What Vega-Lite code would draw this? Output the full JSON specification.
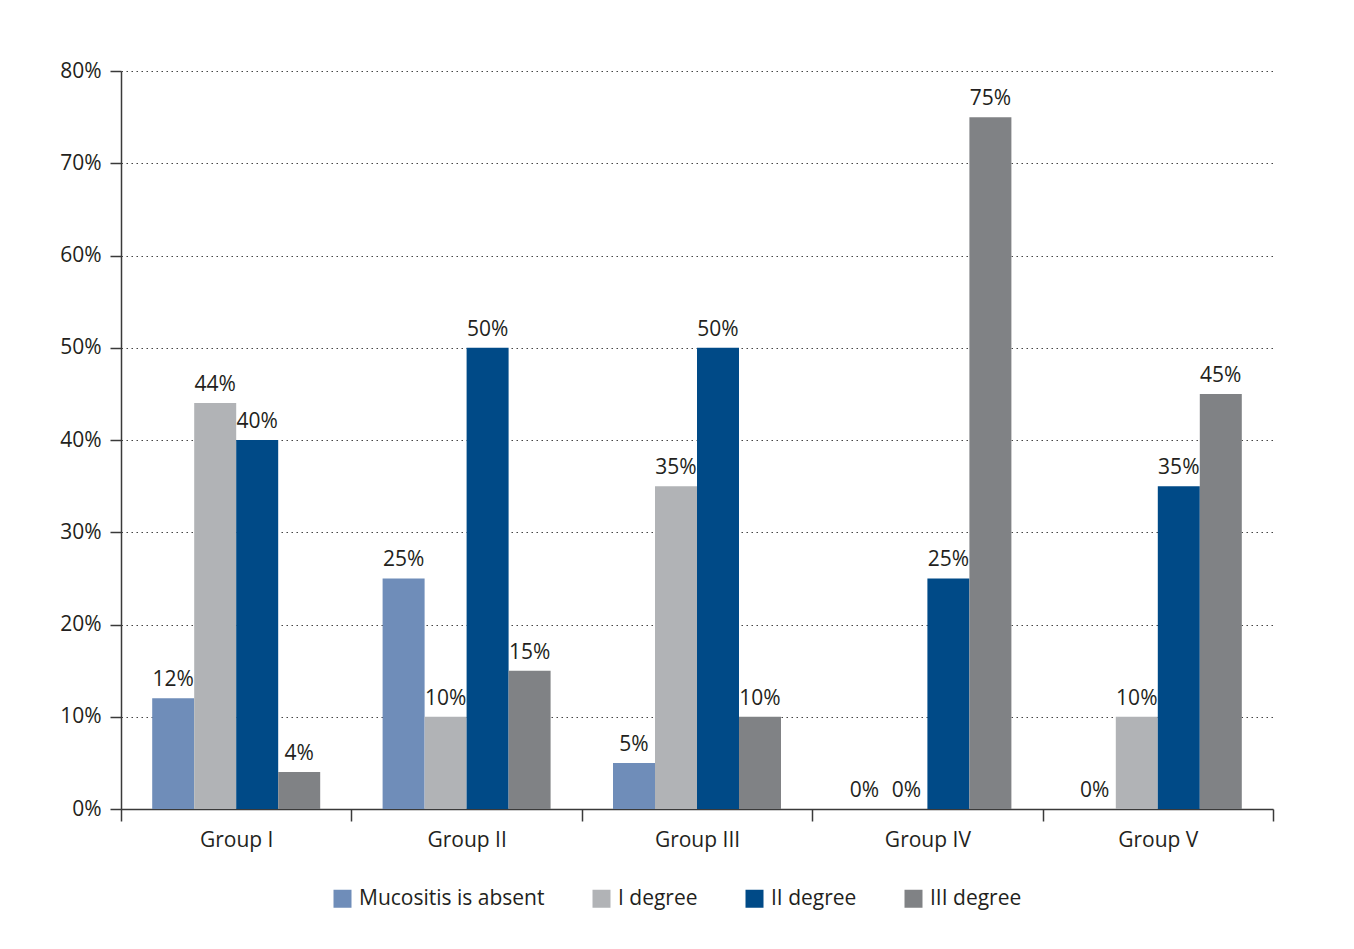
{
  "$schema": "https://vega.github.io/schema/vega-lite/v6.json",
  "width": 1152,
  "height": 738,
  "autosize": {"type": "none"},
  "padding": {"left": 121, "top": 71, "right": 81, "bottom": 140},
  "background": "white",
  "config": {
    "font": "Open Sans",
    "view": {"stroke": null}
  },
  "data": {
    "values": [
      {"group": "Group I", "series": "Mucositis is absent", "value": 0.12},
      {"group": "Group I", "series": "I degree", "value": 0.44},
      {"group": "Group I", "series": "II degree", "value": 0.40},
      {"group": "Group I", "series": "III degree", "value": 0.04},
      {"group": "Group II", "series": "Mucositis is absent", "value": 0.25},
      {"group": "Group II", "series": "I degree", "value": 0.10},
      {"group": "Group II", "series": "II degree", "value": 0.50},
      {"group": "Group II", "series": "III degree", "value": 0.15},
      {"group": "Group III", "series": "Mucositis is absent", "value": 0.05},
      {"group": "Group III", "series": "I degree", "value": 0.35},
      {"group": "Group III", "series": "II degree", "value": 0.50},
      {"group": "Group III", "series": "III degree", "value": 0.10},
      {"group": "Group IV", "series": "Mucositis is absent", "value": 0},
      {"group": "Group IV", "series": "I degree", "value": 0},
      {"group": "Group IV", "series": "II degree", "value": 0.25},
      {"group": "Group IV", "series": "III degree", "value": 0.75},
      {"group": "Group V", "series": "Mucositis is absent", "value": 0},
      {"group": "Group V", "series": "I degree", "value": 0.10},
      {"group": "Group V", "series": "II degree", "value": 0.35},
      {"group": "Group V", "series": "III degree", "value": 0.45}
    ]
  },
  "encoding": {
    "x": {
      "field": "group", "type": "nominal", "sort": null, "title": null,
      "scale": {"paddingInner": 0, "paddingOuter": 0},
      "axis": {
        "labelAngle": 0, "labelFontSize": 21, "labelColor": "#231f20", "labelDx": 3,
        "domainColor": "#3a3a3a", "domainWidth": 1.5,
        "tickBand": "extent", "tickSize": 12, "tickColor": "#3a3a3a", "tickWidth": 1.5,
        "labelPadding": 8, "grid": false
      }
    },
    "xOffset": {
      "field": "series", "type": "nominal",
      "sort": ["Mucositis is absent", "I degree", "II degree", "III degree"],
      "scale": {"paddingInner": 0, "paddingOuter": 0.743}
    },
    "y": {
      "field": "value", "type": "quantitative", "title": null,
      "scale": {"domain": [0, 0.8], "nice": false},
      "axis": {
        "values": [0, 0.1, 0.2, 0.3, 0.4, 0.5, 0.6, 0.7, 0.8],
        "format": ".0%",
        "labelFontSize": 21, "labelColor": "#231f20", "labelPadding": 9,
        "domainColor": "#3a3a3a", "domainWidth": 1.5,
        "tickColor": "#3a3a3a", "tickSize": 11, "tickWidth": 1.5,
        "grid": true, "gridColor": "#444444", "gridDash": [1.5, 3.5], "gridWidth": 1.2
      }
    }
  },
  "layer": [
    {
      "mark": {"type": "bar"},
      "encoding": {
        "color": {
          "field": "series", "type": "nominal",
          "sort": ["Mucositis is absent", "I degree", "II degree", "III degree"],
          "scale": {
            "domain": ["Mucositis is absent", "I degree", "II degree", "III degree"],
            "range": ["#6f8db9", "#b1b3b6", "#004a87", "#808285"]
          },
          "legend": {
            "title": null, "orient": "none", "direction": "horizontal",
            "legendX": 211, "legendY": 817,
            "symbolType": "square", "symbolSize": 324, "symbolStrokeWidth": 0,
            "symbolOpacity": 1, "labelOffset": 6, "labelLimit": 400,
            "labelFontSize": 21, "labelColor": "#231f20",
            "columnPadding": 46
          }
        }
      }
    },
    {
      "mark": {"type": "text", "baseline": "alphabetic", "dy": -12, "fontSize": 21, "color": "#231f20"},
      "encoding": {
        "text": {"field": "value", "type": "quantitative", "format": ".0%"},
        "detail": {"field": "series"}
      }
    }
  ]
}
